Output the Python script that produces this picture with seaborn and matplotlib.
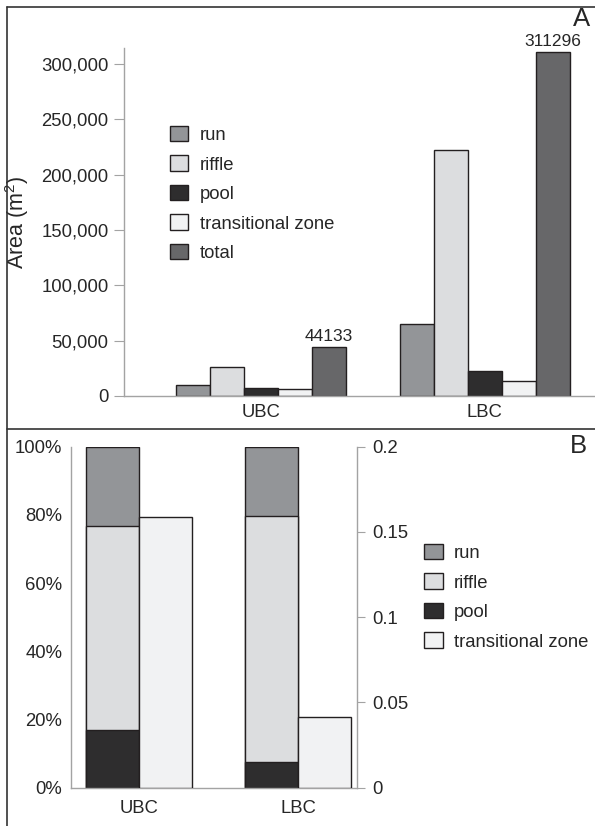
import pandas as pd
import matplotlib
matplotlib.use('Agg')
import matplotlib.pyplot as plt
from matplotlib.lines import Line2D
from matplotlib.patches import Patch
from matplotlib.ticker import StrMethodFormatter, PercentFormatter, FuncFormatter
import numpy as np
import seaborn as sns

sns.set_theme(style="ticks")
plt.rcParams['font.family'] = ['Liberation Sans', 'DejaVu Sans']
plt.rcParams['mathtext.fontset'] = 'custom'
plt.rcParams['mathtext.rm'] = 'Liberation Sans'

# data
sites = ['UBC', 'LBC']
types_a = ['run', 'riffle', 'pool', 'transitional zone', 'total']
run_area = [9900, 64800]
riffle_area = [26200, 222600]
pool_area = [7500, 22900]
tz_area = [6600, 13300]
total_area = [44133, 311296]

run_pct = [23.3, 20.3]
riffle_pct = [59.9, 72.2]
pool_pct = [16.8, 7.5]
tz_ratio = [0.159, 0.0415]

colors = {'run': '#939598', 'riffle': '#dcdddf', 'pool': '#2e2d2e',
          'transitional zone': '#f1f2f3', 'total': '#676769'}
edge = '#231f20'
spine_c = '#a3a3a3'
fs = 13.3

W, H = 595, 826
fig = plt.figure(figsize=(W / 100, H / 100), dpi=100)


def fx(px):
    return px / W


def fy(py):
    return 1 - py / H


# ---------- panel A ----------
df_a = pd.DataFrame({
    'site': sites * 5,
    'type': np.repeat(types_a, 2),
    'area': run_area + riffle_area + pool_area + tz_area + total_area,
})

axA = fig.add_axes([fx(124), fy(396), fx(595 - 124), (396 - 48.3) / H])
sns.barplot(data=df_a, x='site', y='area', hue='type', order=sites, hue_order=types_a,
            palette=colors, saturation=1, width=0.758, edgecolor=edge, linewidth=1.0,
            errorbar=None, ax=axA)
axA.set_xlim(-0.609, 1.491)
axA.set_ylim(0, 314200)
axA.set_yticks(np.arange(0, 300001, 50000))
axA.yaxis.set_major_formatter(StrMethodFormatter('{x:,.0f}'))
axA.set_xlabel('')
axA.set_ylabel('Area (m$^{\\mathregular{2}}$)', fontsize=15.5, labelpad=7)
axA.tick_params(axis='y', length=7.2, width=0.8, color=spine_c, pad=4, labelsize=fs)
axA.tick_params(axis='x', length=0, pad=6, labelsize=fs)
for s in ['top', 'right']:
    axA.spines[s].set_visible(False)
for s in ['left', 'bottom']:
    axA.spines[s].set_color(spine_c)
    axA.spines[s].set_linewidth(1.0)
axA.bar_label(axA.containers[4], fmt='%d', padding=2, fontsize=12.5)
h, l = axA.get_legend_handles_labels()
axA.legend(h, l, loc='upper left', bbox_to_anchor=(fx(170), fy(126)),
           bbox_transform=fig.transFigure, frameon=False, fontsize=fs,
           borderpad=0, borderaxespad=0, handlelength=1.0, handleheight=0.9,
           handletextpad=0.6, labelspacing=0.62)

# ---------- panel B ----------
cum_riffle = np.array(pool_pct) + np.array(riffle_pct)
cum_run = cum_riffle + np.array(run_pct)
slots = ['stack', 'tz']

axB = fig.add_axes([fx(70.7), fy(787.7), fx(357 - 70.7), (787.7 - 446.7) / H])
for vals, key in [(cum_run, 'run'), (cum_riffle, 'riffle'), (pool_pct, 'pool')]:
    d = pd.DataFrame({'site': sites, 'slot': 'stack', 'v': list(vals)})
    sns.barplot(data=d, x='site', y='v', hue='slot', order=sites, hue_order=slots,
                palette={'stack': colors[key], 'tz': colors['transitional zone']},
                saturation=1, width=0.667, dodge=True, edgecolor=edge, linewidth=1.0,
                errorbar=None, legend=False, ax=axB)

axB2 = axB.twinx()
d = pd.DataFrame({'site': sites, 'slot': 'tz', 'v': tz_ratio})
sns.barplot(data=d, x='site', y='v', hue='slot', order=sites, hue_order=slots,
            palette={'stack': colors['run'], 'tz': colors['transitional zone']},
            saturation=1, width=0.667, dodge=True, edgecolor=edge, linewidth=1.0,
            errorbar=None, legend=False, ax=axB2)

for ax in (axB, axB2):
    ax.set_xlim(-0.431, 1.369)
    ax.set_xlabel('')
    ax.set_ylabel('')
    ax.spines['top'].set_visible(False)
axB.set_ylim(0, 100)
axB.set_yticks(np.arange(0, 101, 20))
axB.yaxis.set_major_formatter(PercentFormatter(100, decimals=0))
axB.tick_params(axis='y', length=0, pad=6, labelsize=fs)
axB.tick_params(axis='x', length=0, pad=9, labelsize=fs)
axB.spines['right'].set_visible(False)
for s in ['left', 'bottom']:
    axB.spines[s].set_color(spine_c)
    axB.spines[s].set_linewidth(1.0)

axB2.set_ylim(0, 0.2)
axB2.set_yticks([0, 0.05, 0.1, 0.15, 0.2])
axB2.yaxis.set_major_formatter(FuncFormatter(lambda v, p: '{:g}'.format(round(v, 3))))
axB2.tick_params(axis='y', length=5.8, width=0.8, color=spine_c, pad=5, labelsize=fs)
axB2.spines['left'].set_visible(False)
axB2.spines['bottom'].set_visible(False)
axB2.spines['right'].set_color(spine_c)
axB2.spines['right'].set_linewidth(1.0)

handles_b = [Patch(facecolor=colors[k], edgecolor=edge, linewidth=1.0, label=k)
             for k in ['run', 'riffle', 'pool', 'transitional zone']]
axB2.legend(handles=handles_b, loc='upper left', bbox_to_anchor=(fx(424.3), fy(544)),
            bbox_transform=fig.transFigure, frameon=False, fontsize=fs,
            borderpad=0, borderaxespad=0, handlelength=1.0, handleheight=0.9,
            handletextpad=0.6, labelspacing=0.62)

# panel letters and frame
fig.text(fx(582), fy(19), 'A', fontsize=18.5, ha='center', va='center')
fig.text(fx(578.5), fy(446), 'B', fontsize=18.5, ha='center', va='center')
frame_c = '#333333'
fig.add_artist(Line2D([fx(6.7), 1], [fy(6.7), fy(6.7)], color=frame_c, lw=1.2))
fig.add_artist(Line2D([fx(6.7), fx(6.7)], [fy(6.7), 0], color=frame_c, lw=1.2))
fig.add_artist(Line2D([fx(6.7), 1], [fy(429.3), fy(429.3)], color=frame_c, lw=1.2))

plt.savefig('out.png', dpi=100)
